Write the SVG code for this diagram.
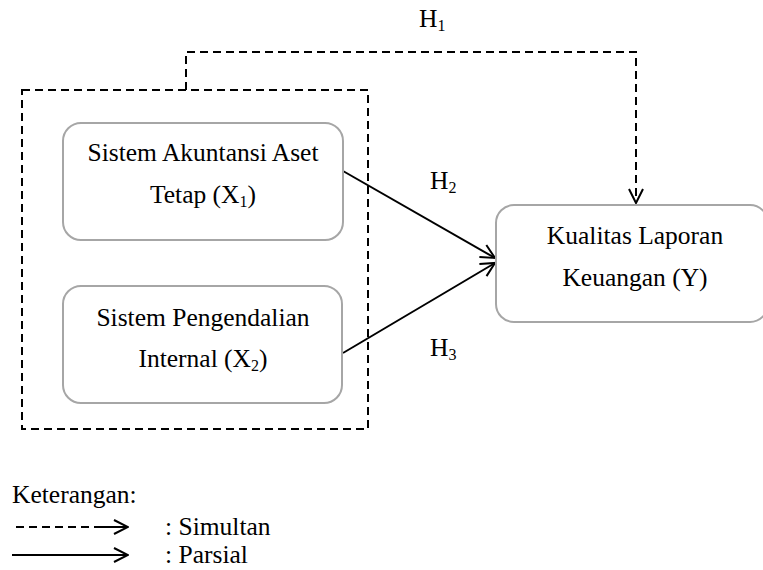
<svg xmlns="http://www.w3.org/2000/svg" width="763" height="570" viewBox="0 0 763 570">
<style>
text{font-family:'Liberation Serif','Times New Roman',serif;font-size:25.5px;fill:#000}
.node{fill:#fff;stroke:#a6a6a6;stroke-width:2}
.dash{fill:none;stroke:#000;stroke-width:2;stroke-dasharray:8,5}
.solid{fill:none;stroke:#000;stroke-width:2}
.sub{font-size:16px}
</style>
<defs>
<marker id="arr" viewBox="0 0 16 16" refX="15" refY="8" markerWidth="16" markerHeight="16" markerUnits="userSpaceOnUse" orient="auto">
<path d="M1,1 L15,8 L1,15" fill="none" stroke="#000" stroke-width="2"/>
</marker>
</defs>
<rect width="763" height="570" fill="#fff"/>
<g id="connectors">
<rect x="22" y="90" width="346" height="339" class="dash"/>
<path d="M186,90 V52 H636 V203" class="dash" marker-end="url(#arr)"/>
<line x1="343" y1="171" x2="495" y2="258" class="solid" marker-end="url(#arr)"/>
<line x1="343" y1="353" x2="495" y2="263" class="solid" marker-end="url(#arr)"/>
</g>
<g id="x1">
<rect x="63" y="123" width="280" height="117" rx="18" class="node"/>
<text x="203" y="161" text-anchor="middle">Sistem Akuntansi Aset</text>
<text x="203" y="203" text-anchor="middle">Tetap (X<tspan class="sub" dy="4">1</tspan><tspan dy="-4">)</tspan></text>
</g>
<g id="x2">
<rect x="63" y="286" width="279" height="117" rx="18" class="node"/>
<text x="203" y="326" text-anchor="middle">Sistem Pengendalian</text>
<text x="203" y="367" text-anchor="middle">Internal (X<tspan class="sub" dy="4">2</tspan><tspan dy="-4">)</tspan></text>
</g>
<g id="y">
<rect x="496" y="205" width="272" height="117" rx="18" class="node"/>
<text x="635" y="244" text-anchor="middle">Kualitas Laporan</text>
<text x="635" y="286" text-anchor="middle">Keuangan (Y)</text>
</g>
<g id="labels">
<text x="419" y="27">H<tspan class="sub" dy="4">1</tspan></text>
<text x="430" y="189">H<tspan class="sub" dy="4">2</tspan></text>
<text x="430" y="356">H<tspan class="sub" dy="4">3</tspan></text>
</g>
<g id="legend">
<text x="12" y="503">Keterangan:</text>
<line x1="16" y1="527" x2="100" y2="527" class="dash"/>
<line x1="100" y1="527" x2="128" y2="527" class="solid" marker-end="url(#arr)"/>
<line x1="12" y1="555" x2="128" y2="555" class="solid" marker-end="url(#arr)"/>
<text x="165" y="535">: Simultan</text>
<text x="165" y="563">: Parsial</text>
</g>
</svg>
